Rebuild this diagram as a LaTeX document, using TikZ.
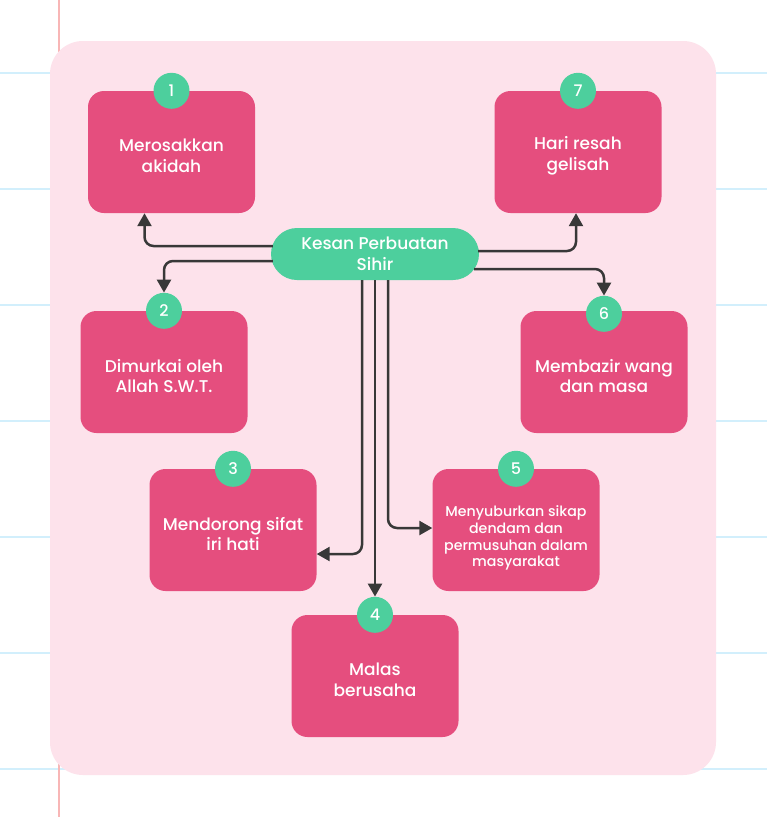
\documentclass[tikz,border=0pt]{standalone}
\usepackage{fontspec}
\setmainfont{Poppins Medium}
\usetikzlibrary{arrows.meta}
\definecolor{merahjambu}{HTML}{E54E7E}
\definecolor{hijau}{HTML}{4DCF9D}
\definecolor{latar}{HTML}{FDE2EB}
\definecolor{biru}{HTML}{D2EFFC}
\definecolor{merah}{HTML}{F8B6B6}
\definecolor{garis}{HTML}{383838}

\begin{document}
\begin{tikzpicture}[x=1pt,y=-1pt,
    kotak/.style={fill=merahjambu,rounded corners=16pt,minimum width=167pt,minimum height=122pt},
    teks/.style={text=white,align=center,inner sep=0pt,font=\fontsize{17}{20.8}\selectfont},
    nombor/.style={circle,fill=hijau,minimum size=36pt,inner sep=0pt,text=white,
      font=\fontsize{16}{18}\selectfont},
    anak/.style={draw=garis,line width=2.5pt,rounded corners=9pt,-{Triangle[length=13pt,width=14pt]}}]
  \useasboundingbox (0,0) rectangle (767,817);
  \fill[white] (0,0) rectangle (767,817);
  \foreach \y in {73,189,...,769}
    \draw[biru,line width=2pt] (0,\y) -- (767,\y);
  \draw[merah,line width=2pt] (59,0) -- (59,817);
  \fill[latar,rounded corners=33pt] (50,41) rectangle (716,775);

  \node[kotak] (n1) at (171.5,152) {};
  \node[kotak] (n7) at (578,152) {};
  \node[kotak] (n2) at (164,372) {};
  \node[kotak] (n6) at (604,372) {};
  \node[kotak] (n3) at (233,530) {};
  \node[kotak] (n5) at (516,530) {};
  \node[kotak] (n4) at (375,676) {};

  \node[teks] (t1) at ([yshift=-4pt]n1) {Merosakkan\\akidah};
  \node[teks] (t7) at ([yshift=-4pt]n7) {Hari resah\\gelisah};
  \node[teks] (t2) at ([yshift=-4pt]n2) {Dimurkai oleh\\Allah S.W.T.};
  \node[teks] (t6) at ([yshift=-4pt]n6) {Membazir wang\\dan masa};
  \node[teks] (t3) at ([yshift=-4pt]n3) {Mendorong sifat\\iri hati};
  \node[teks,font=\fontsize{14.2}{16.9}\selectfont] (t5) at ([yshift=-8pt]n5)
    {Menyuburkan sikap\\dendam dan\\permusuhan dalam\\masyarakat};
  \node[teks] (t4) at ([yshift=-4pt]n4) {Malas\\berusaha};

  \node[fill=hijau,rounded corners=26pt,minimum width=208pt,minimum height=52pt,inner sep=2pt,
    text=white,align=center,font=\fontsize{17}{20.8}\selectfont] (hub) at (375,254)
    {Kesan Perbuatan\\Sihir};

  \node[nombor] (c1) at (n1.north) {1};
  \node[nombor] (c7) at (n7.north) {7};
  \node[nombor] (c2) at (n2.north) {2};
  \node[nombor] (c6) at ([yshift=-3pt]n6.north) {6};
  \node[nombor] (c3) at (n3.north) {3};
  \node[nombor] (c5) at (n5.north) {5};
  \node[nombor] (c4) at (n4.north) {4};

  \draw[anak] ([shift={(2pt,8pt)}]hub.west) -| ([xshift=-27pt]n1.south);
  \draw[anak] ([shift={(2pt,-7pt)}]hub.west) -| (c2.north);
  \draw[anak] ([shift={(-1pt,3pt)}]hub.east) -| ([xshift=-2pt]n7.south);
  \draw[anak] ([shift={(-5pt,-15pt)}]hub.east) -| (c6.north);
  \draw[anak] ([xshift=-13pt]hub.south) |- ([yshift=-24pt]n3.east);
  \draw[anak] (hub.south) -- (c4.north);
  \draw[anak] ([xshift=13pt]hub.south) |- ([yshift=2pt]n5.west);
\end{tikzpicture}
\end{document}
